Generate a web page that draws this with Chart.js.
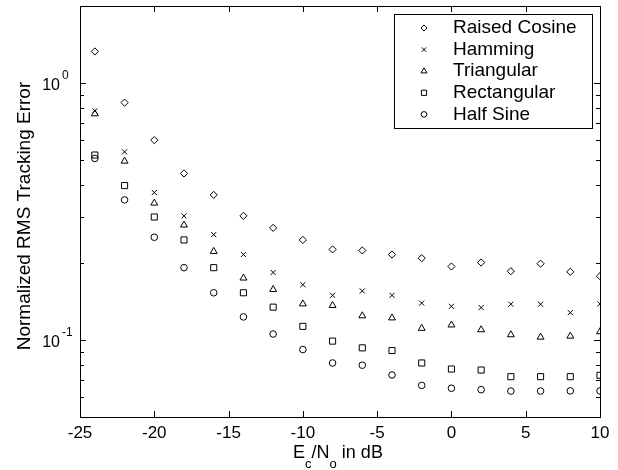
<!DOCTYPE html>
<html>
<head>
<meta charset="utf-8">
<script src="https://cdn.jsdelivr.net/npm/chart.js@4.4.1/dist/chart.umd.min.js"></script>
<style>
html,body{margin:0;padding:0;background:#fff;}
#wrap{width:618px;height:470px;}
</style>
</head>
<body>
<div id="wrap"><canvas id="c" width="618" height="470"></canvas></div>
<script>
// ---- data ----
const ecNo = [-24,-22,-20,-18,-16,-14,-12,-10,-8,-6,-4,-2,0,2,4,6,8,10];
const raisedCosine = [1.33,0.84,0.60,0.445,0.367,0.304,0.273,0.245,0.225,0.223,0.215,0.208,0.193,0.200,0.185,0.198,0.184,0.177];
const hamming      = [0.78,0.54,0.375,0.304,0.257,0.215,0.183,0.164,0.149,0.155,0.149,0.139,0.135,0.1335,0.1376,0.1376,0.1276,0.138];
const triangular   = [0.76,0.497,0.341,0.280,0.221,0.174,0.157,0.138,0.136,0.124,0.1217,0.1108,0.1142,0.1094,0.1046,0.1024,0.1033,0.1075];
const rectangular  = [0.525,0.399,0.301,0.245,0.191,0.1525,0.134,0.1128,0.0988,0.093,0.0908,0.0812,0.0769,0.0762,0.0718,0.0718,0.0718,0.0727];
const halfSine     = [0.509,0.351,0.251,0.191,0.1525,0.1228,0.1053,0.0916,0.0812,0.0796,0.0729,0.0664,0.0647,0.0639,0.0631,0.0631,0.0632,0.0632];
const seriesNames  = ['Raised Cosine','Hamming','Triangular','Rectangular','Half Sine'];
const xTicks = [-25,-20,-15,-10,-5,0,5,10];
const yMajorTicks = [0.1, 1];
const yMajorLabels = [['10','-1'],['10','0']];
const yMinorTicks = [0.06,0.07,0.08,0.09,0.2,0.3,0.4,0.5,0.6,0.7,0.8,0.9];
const yTitle = 'Normalized RMS Tracking Error';

const FONT = '"Liberation Sans", Arial, Helvetica, sans-serif';
const styles = [
  {pointStyle:'rectRot', radius:3.6},
  {pointStyle:'crossRot', radius:3.6},
  {pointStyle:'triangle', radius:4},
  {pointStyle:'rect', radius:4.3},
  {pointStyle:'circle', radius:3.3}
];
const allData = [raisedCosine, hamming, triangular, rectangular, halfSine];

const datasets = allData.map((arr,i)=>({
  label: seriesNames[i],
  data: ecNo.map((x,j)=>({x:x,y:arr[j]})),
  showLine:false,
  pointStyle: styles[i].pointStyle,
  pointRadius: styles[i].radius,
  pointHoverRadius: styles[i].radius,
  pointBorderWidth: 1,
  pointBorderColor: '#000',
  pointBackgroundColor: 'rgba(0,0,0,0)',
  borderColor:'#000',
  backgroundColor:'rgba(0,0,0,0)'
}));

function drawMarker(ctx, style, r, x, y){
  if (Chart.helpers && Chart.helpers.drawPoint){
    ctx.save();
    ctx.strokeStyle='#000'; ctx.fillStyle='rgba(0,0,0,0)'; ctx.lineWidth=1;
    Chart.helpers.drawPoint(ctx, {pointStyle:style, radius:r, borderWidth:1, rotation:0}, x, y);
    ctx.restore();
  }
}

const decor = {
  id:'decor',
  afterDraw(chart){
    const ctx = chart.ctx;
    const a = chart.chartArea;
    const xs = chart.scales.x, ys = chart.scales.y;
    ctx.save();
    ctx.strokeStyle='#000'; ctx.lineWidth=1;
    // box
    ctx.strokeRect(Math.round(a.left)+0.5, Math.round(a.top)+0.5, Math.round(a.right-a.left), Math.round(a.bottom-a.top));
    ctx.beginPath();
    // x ticks (bottom and top, inward)
    xTicks.forEach(v=>{
      const px = Math.round(xs.getPixelForValue(v))+0.5;
      ctx.moveTo(px, a.bottom); ctx.lineTo(px, a.bottom-6);
      ctx.moveTo(px, a.top); ctx.lineTo(px, a.top+6);
    });
    // y major and minor ticks
    yMajorTicks.forEach(v=>{
      const py = Math.round(ys.getPixelForValue(v))+0.5;
      ctx.moveTo(a.left, py); ctx.lineTo(a.left+6, py);
      ctx.moveTo(a.right, py); ctx.lineTo(a.right-6, py);
    });
    yMinorTicks.forEach(v=>{
      const py = Math.round(ys.getPixelForValue(v))+0.5;
      ctx.moveTo(a.left, py); ctx.lineTo(a.left+4, py);
      ctx.moveTo(a.right, py); ctx.lineTo(a.right-4, py);
    });
    ctx.stroke();

    ctx.fillStyle='#000';
    // x tick labels
    ctx.font = '17px '+FONT;
    ctx.textAlign='center'; ctx.textBaseline='alphabetic';
    xTicks.forEach(v=>{
      ctx.fillText(String(v), xs.getPixelForValue(v), a.bottom+21);
    });
    // y tick labels with superscripts
    yMajorTicks.forEach((v,i)=>{
      const py = ys.getPixelForValue(v);
      ctx.font = '16px '+FONT;
      ctx.textAlign='right';
      ctx.fillText(yMajorLabels[i][0], a.left-20, py+7);
      ctx.font = '12px '+FONT;
      ctx.textAlign='left';
      ctx.fillText(yMajorLabels[i][1], a.left-18, py-4);
    });
    // y title
    ctx.save();
    ctx.translate(29.5, 216);
    ctx.rotate(-Math.PI/2);
    ctx.font = '19px '+FONT;
    ctx.textAlign='center';
    ctx.fillText(yTitle, 0, 0);
    ctx.restore();
    // x title with subscripts: E_c/N_o in dB
    const parts = [['E',0,18],['c',10,13],['/N',0,18],['o',10,13],[' in dB',0,18]];
    let total = 0;
    parts.forEach(p=>{ctx.font=p[2]+'px '+FONT; total += ctx.measureText(p[0]).width;});
    let cx = (a.left+a.right)/2 - total/2 - 2;
    const by = a.bottom + 41;
    ctx.textAlign='left';
    parts.forEach(p=>{ctx.font=p[2]+'px '+FONT; ctx.fillText(p[0], cx, by+p[1]); cx += ctx.measureText(p[0]).width;});

    // legend
    const lx0 = 394.5, ly0 = 14.5, lw = 198, lh = 114;
    ctx.fillStyle='#fff';
    ctx.fillRect(lx0, ly0, lw, lh);
    ctx.strokeRect(lx0, ly0, lw, lh);
    ctx.fillStyle='#000';
    ctx.font='19px '+FONT;
    ctx.textBaseline='middle';
    seriesNames.forEach((n,i)=>{
      const yy = 28 + i*21.6;
      drawMarker(ctx, styles[i].pointStyle, styles[i].radius*0.85, 424, yy);
      ctx.fillStyle='#000';
      ctx.fillText(n, 453, yy);
    });
    ctx.restore();
  }
};

new Chart(document.getElementById('c'), {
  type:'scatter',
  data:{datasets},
  options:{
    responsive:false,
    devicePixelRatio:1,
    animation:false,
    events:[],
    layout:{padding:{top:6,right:18,left:0,bottom:0}},
    plugins:{legend:{display:false}, tooltip:{enabled:false}},
    scales:{
      x:{type:'linear', min:-25, max:10,
         grid:{display:false}, border:{display:false},
         ticks:{display:false},
         afterFit(s){s.height=53;}},
      y:{type:'logarithmic', min:0.05, max:2,
         grid:{display:false}, border:{display:false},
         ticks:{display:false},
         afterFit(s){s.width=80;}}
    }
  },
  plugins:[decor]
});
</script>
</body>
</html>
